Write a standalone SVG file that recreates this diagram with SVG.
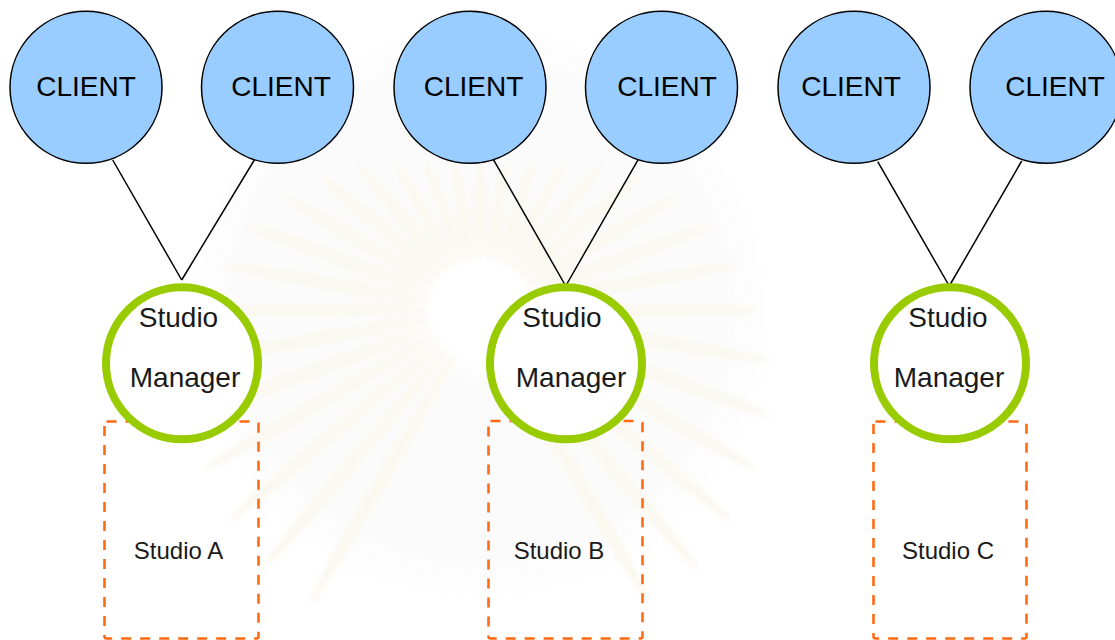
<svg xmlns="http://www.w3.org/2000/svg" width="1115" height="640" viewBox="0 0 1115 640">
  <style>
    .client circle { fill: #99ccff; stroke: #000; stroke-width: 1.5; }
    .client text { font-family: "Liberation Sans", Arial, sans-serif; font-size: 28px; fill: #000; text-anchor: middle; }
    .manager circle { fill: #fff; stroke: #99cc00; stroke-width: 8; }
    .manager text { font-family: "Liberation Sans", Arial, sans-serif; font-size: 28px; fill: #1a1a1a; text-anchor: middle; }
    .studio rect { fill: none; stroke: #ff6a13; stroke-width: 2.6; stroke-dasharray: 10 9; }
    .studio text { font-family: "Liberation Sans", Arial, sans-serif; font-size: 24px; fill: #1a1a1a; text-anchor: middle; }
    .link { stroke: #000; stroke-width: 1.5; fill: none; }
    .ray { fill: #f8f5e9; }
  </style>
  <defs>
    <filter id="soft" x="-20%" y="-20%" width="140%" height="140%">
      <feGaussianBlur stdDeviation="2.5"/>
    </filter>
    <radialGradient id="haze" cx="480" cy="310" r="320" gradientUnits="userSpaceOnUse">
      <stop offset="0" stop-color="#ffffff"/>
      <stop offset="0.15" stop-color="#ffffff"/>
      <stop offset="0.25" stop-color="#f4f4f4"/>
      <stop offset="0.8" stop-color="#f7f7f7"/>
      <stop offset="1" stop-color="#ffffff" stop-opacity="0"/>
    </radialGradient>
  </defs>

  <rect width="1115" height="640" fill="#fff"/>

  <!-- faint sunburst watermark in the background -->
  <g id="watermark" filter="url(#soft)" opacity="0.7">
    <ellipse cx="480" cy="330" rx="290" ry="300" fill="url(#haze)" opacity="0.6"/>
    <g class="ray">
      <ellipse cx="645" cy="310" rx="115" ry="7" transform="rotate(0 480 310)"/>
      <ellipse cx="652" cy="310" rx="122" ry="7" transform="rotate(10 480 310)"/>
      <ellipse cx="660" cy="310" rx="130" ry="7" transform="rotate(20 480 310)"/>
      <ellipse cx="665" cy="310" rx="135" ry="7" transform="rotate(30 480 310)"/>
      <ellipse cx="670" cy="310" rx="140" ry="7" transform="rotate(40 480 310)"/>
      <ellipse cx="675" cy="310" rx="145" ry="7" transform="rotate(50 480 310)"/>
      <ellipse cx="675" cy="310" rx="145" ry="7" transform="rotate(60 480 310)"/>
      <ellipse cx="675" cy="310" rx="145" ry="7" transform="rotate(120 480 310)"/>
      <ellipse cx="675" cy="310" rx="145" ry="7" transform="rotate(130 480 310)"/>
      <ellipse cx="670" cy="310" rx="140" ry="7" transform="rotate(140 480 310)"/>
      <ellipse cx="665" cy="310" rx="135" ry="7" transform="rotate(150 480 310)"/>
      <ellipse cx="660" cy="310" rx="130" ry="7" transform="rotate(160 480 310)"/>
      <ellipse cx="652" cy="310" rx="122" ry="7" transform="rotate(170 480 310)"/>
      <ellipse cx="645" cy="310" rx="115" ry="7" transform="rotate(180 480 310)"/>
      <ellipse cx="637" cy="310" rx="107" ry="7" transform="rotate(190 480 310)"/>
      <ellipse cx="630" cy="310" rx="100" ry="7" transform="rotate(200 480 310)"/>
      <ellipse cx="620" cy="310" rx="90" ry="7" transform="rotate(210 480 310)"/>
      <ellipse cx="610" cy="310" rx="80" ry="7" transform="rotate(220 480 310)"/>
      <ellipse cx="600" cy="310" rx="70" ry="7" transform="rotate(230 480 310)"/>
      <ellipse cx="590" cy="310" rx="60" ry="6" transform="rotate(240 480 310)"/>
      <ellipse cx="584" cy="310" rx="54" ry="6" transform="rotate(250 480 310)"/>
      <ellipse cx="580" cy="310" rx="50" ry="6" transform="rotate(260 480 310)"/>
      <ellipse cx="579" cy="310" rx="49" ry="6" transform="rotate(270 480 310)"/>
      <ellipse cx="580" cy="310" rx="50" ry="6" transform="rotate(280 480 310)"/>
      <ellipse cx="584" cy="310" rx="54" ry="6" transform="rotate(290 480 310)"/>
      <ellipse cx="590" cy="310" rx="60" ry="6" transform="rotate(300 480 310)"/>
      <ellipse cx="600" cy="310" rx="70" ry="7" transform="rotate(310 480 310)"/>
      <ellipse cx="610" cy="310" rx="80" ry="7" transform="rotate(320 480 310)"/>
      <ellipse cx="620" cy="310" rx="90" ry="7" transform="rotate(330 480 310)"/>
      <ellipse cx="630" cy="310" rx="100" ry="7" transform="rotate(340 480 310)"/>
      <ellipse cx="637" cy="310" rx="107" ry="7" transform="rotate(350 480 310)"/>
    </g>
  </g>

  <!-- connectors: each client pair joins its studio manager -->
  <g id="connectors">
    <line class="link" x1="112.7" y1="160" x2="181.7" y2="280"/>
    <line class="link" x1="255.7" y1="157.7" x2="181.7" y2="280"/>
    <line class="link" x1="492.7" y1="158.3" x2="565.7" y2="286"/>
    <line class="link" x1="638.3" y1="159.3" x2="565.7" y2="286"/>
    <line class="link" x1="877.7" y1="161.7" x2="949.3" y2="286"/>
    <line class="link" x1="1021.7" y1="161" x2="949.3" y2="286"/>
  </g>

  <!-- studios (dashed boxes) -->
  <g id="studio-a" class="studio">
    <rect x="104.5" y="421.5" width="154" height="217" rx="2"/>
    <text x="178.5" y="559">Studio A</text>
  </g>
  <g id="studio-b" class="studio">
    <rect x="488.5" y="421" width="154" height="217.5" rx="2"/>
    <text x="559" y="559">Studio B</text>
  </g>
  <g id="studio-c" class="studio">
    <rect x="873.5" y="421.5" width="153" height="217" rx="2"/>
    <text x="948" y="559">Studio C</text>
  </g>

  <!-- studio managers -->
  <g id="manager-a" class="manager">
    <circle cx="182" cy="363.3" r="76"/>
    <text x="178.5" y="327">Studio</text>
    <text x="185" y="387">Manager</text>
  </g>
  <g id="manager-b" class="manager">
    <circle cx="566" cy="363.3" r="76"/>
    <text x="562" y="327">Studio</text>
    <text x="571" y="387">Manager</text>
  </g>
  <g id="manager-c" class="manager">
    <circle cx="950" cy="363.3" r="76"/>
    <text x="948" y="327">Studio</text>
    <text x="949" y="387">Manager</text>
  </g>

  <!-- clients -->
  <g id="client-1" class="client">
    <circle cx="86" cy="87.3" r="76"/>
    <text x="86" y="96">CLIENT</text>
  </g>
  <g id="client-2" class="client">
    <circle cx="277.5" cy="87.3" r="76"/>
    <text x="281" y="96">CLIENT</text>
  </g>
  <g id="client-3" class="client">
    <circle cx="470" cy="87.3" r="76"/>
    <text x="473.5" y="96">CLIENT</text>
  </g>
  <g id="client-4" class="client">
    <circle cx="661.5" cy="87.3" r="76"/>
    <text x="667" y="96">CLIENT</text>
  </g>
  <g id="client-5" class="client">
    <circle cx="854" cy="87.3" r="76"/>
    <text x="851" y="96">CLIENT</text>
  </g>
  <g id="client-6" class="client">
    <circle cx="1046" cy="87.3" r="76"/>
    <text x="1055" y="96">CLIENT</text>
  </g>
</svg>
